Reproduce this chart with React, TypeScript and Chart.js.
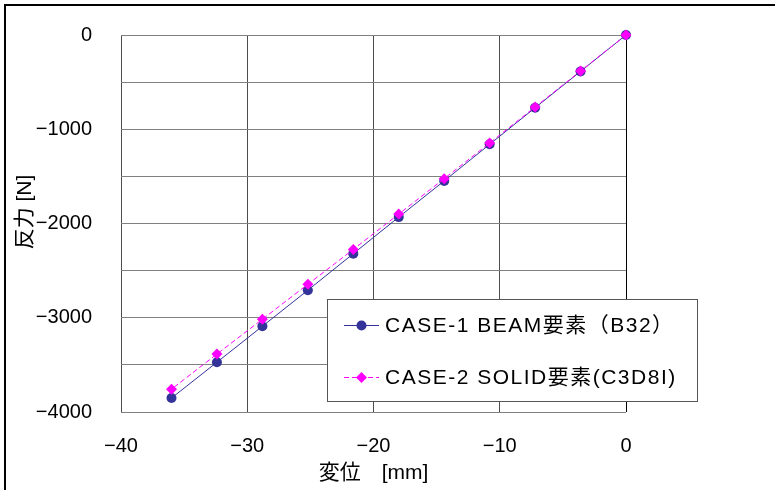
import React, { useEffect, useRef } from "react";
import { Chart, registerables } from "chart.js";

Chart.register(...registerables);

const xValues = [0, -3.6, -7.2, -10.8, -14.4, -18, -21.6, -25.2, -28.8, -32.4, -36];
const case1Values = [0, -386, -772, -1160, -1548, -1932, -2320, -2708, -3090, -3472, -3852];
const case2Values = [0, -382, -764, -1146, -1524, -1900, -2275, -2645, -3016, -3385, -3758];

const case1Label = "CASE-1 BEAM要素（B32）";
const case2Label = "CASE-2 SOLID要素(C3D8I)";
const xTitle = "変位　[mm]";
const yTitle = "反力 [N]";

const FONT = "'Liberation Sans', 'Noto Sans CJK JP', sans-serif";
const NAVY = "#333399";
const MAGENTA = "#FF00FF";

const fmt = (v: number) => (v < 0 ? "\u2212" + Math.abs(v) : String(v));

export default function App() {
  const ref = useRef<HTMLCanvasElement | null>(null);

  useEffect(() => {
    const canvas = ref.current;
    if (!canvas) return;

    const decor = {
      id: "decor",
      afterDraw(chart: any) {
        const ctx = chart.ctx as CanvasRenderingContext2D;
        ctx.save();
        // outer frame
        ctx.strokeStyle = "#000";
        ctx.lineWidth = 2;
        ctx.strokeRect(5, 5, 790, 500);

        // y title
        ctx.fillStyle = "#000";
        ctx.font = `21px ${FONT}`;
        ctx.textAlign = "center";
        ctx.textBaseline = "middle";
        ctx.translate(25, 212);
        ctx.rotate(-Math.PI / 2);
        ctx.fillText(yTitle, 0, 0);
        ctx.restore();

        // legend
        ctx.save();
        const lx = 327.5, ly = 299.5, lw = 370, lh = 102;
        ctx.fillStyle = "#fff";
        ctx.fillRect(lx, ly, lw, lh);
        ctx.strokeStyle = "#555";
        ctx.lineWidth = 1;
        ctx.strokeRect(lx, ly, lw, lh);

        const entries = [
          { label: case1Label, color: NAVY, dash: [] as number[], y: 325.5, style: "circle" },
          { label: case2Label, color: MAGENTA, dash: [5, 3], y: 377.5, style: "diamond" },
        ];
        for (const e of entries) {
          ctx.strokeStyle = e.color;
          ctx.lineWidth = 1;
          ctx.setLineDash(e.dash);
          ctx.beginPath();
          ctx.moveTo(344, e.y);
          ctx.lineTo(379, e.y);
          ctx.stroke();
          ctx.setLineDash([]);
          ctx.fillStyle = e.color;
          ctx.beginPath();
          if (e.style === "circle") {
            ctx.arc(361.5, e.y, 5, 0, Math.PI * 2);
          } else {
            ctx.moveTo(361.5, e.y - 5.5);
            ctx.lineTo(367, e.y);
            ctx.lineTo(361.5, e.y + 5.5);
            ctx.lineTo(356, e.y);
            ctx.closePath();
          }
          ctx.fill();
          ctx.fillStyle = "#000";
          ctx.font = `21px ${FONT}`;
          (ctx as any).letterSpacing = "1.5px";
          ctx.textAlign = "left";
          ctx.textBaseline = "middle";
          ctx.fillText(e.label, 385, e.y + 1);
          (ctx as any).letterSpacing = "0px";
        }
        ctx.restore();
      },
    };

    const chart = new Chart(canvas, {
      type: "scatter",
      data: {
        datasets: [
          {
            label: case1Label,
            data: xValues.map((x, i) => ({ x, y: case1Values[i] })),
            showLine: true,
            borderColor: NAVY,
            backgroundColor: NAVY,
            borderWidth: 1,
            pointRadius: 5,
            pointStyle: "circle",
            pointBorderWidth: 0,
            clip: false,
            order: 2,
          },
          {
            label: case2Label,
            data: xValues.map((x, i) => ({ x, y: case2Values[i] })),
            showLine: true,
            borderColor: MAGENTA,
            backgroundColor: MAGENTA,
            borderWidth: 1,
            borderDash: [5, 3],
            pointRadius: 5.5,
            pointStyle: "rectRot",
            pointBorderWidth: 0,
            clip: false,
            order: 1,
          },
        ],
      },
      options: {
        responsive: false,
        animation: false,
        events: [],
        layout: { padding: { left: 0, top: 35, right: 149, bottom: 0 } },
        plugins: {
          legend: { display: false },
          tooltip: { enabled: false },
        },
        scales: {
          x: {
            type: "linear",
            min: -40,
            max: 0,
            ticks: {
              stepSize: 10,
              color: "#000",
              font: { size: 20, family: FONT },
              padding: 22,
              maxRotation: 0,
              callback: (v: any) => fmt(Number(v)),
            },
            grid: {
              color: (c: any) => (c.tick && c.tick.value === 0 ? "#000" : "#4d4d4d"),
              drawTicks: false,
              lineWidth: 1,
            },
            border: { display: false },
            title: {
              display: true,
              text: xTitle,
              color: "#000",
              font: { size: 21, family: FONT },
              padding: { top: 0, bottom: 4 },
            },
            afterFit: (s: any) => {
              s.height = 78;
              s.paddingLeft = 0;
              s.paddingRight = 0;
            },
          },
          y: {
            type: "linear",
            min: -4000,
            max: 0,
            ticks: {
              stepSize: 500,
              color: "#000",
              font: { size: 20, family: FONT },
              padding: 29,
              callback: (v: any) => (Number(v) % 1000 === 0 ? fmt(Number(v)) : ""),
            },
            grid: {
              color: "#808080",
              drawTicks: false,
              lineWidth: 1,
            },
            border: { display: false },
            afterFit: (s: any) => {
              s.width = 121;
              s.paddingTop = 0;
              s.paddingBottom = 0;
            },
          },
        },
      },
      plugins: [decor],
    } as any);

    return () => chart.destroy();
  }, []);

  return (
    <div style={{ position: "absolute", left: 0, top: 0, width: 775, height: 490, background: "#fff" }}>
      <canvas ref={ref} width={775} height={490} style={{ display: "block", width: 775, height: 490 }} />
    </div>
  );
}
